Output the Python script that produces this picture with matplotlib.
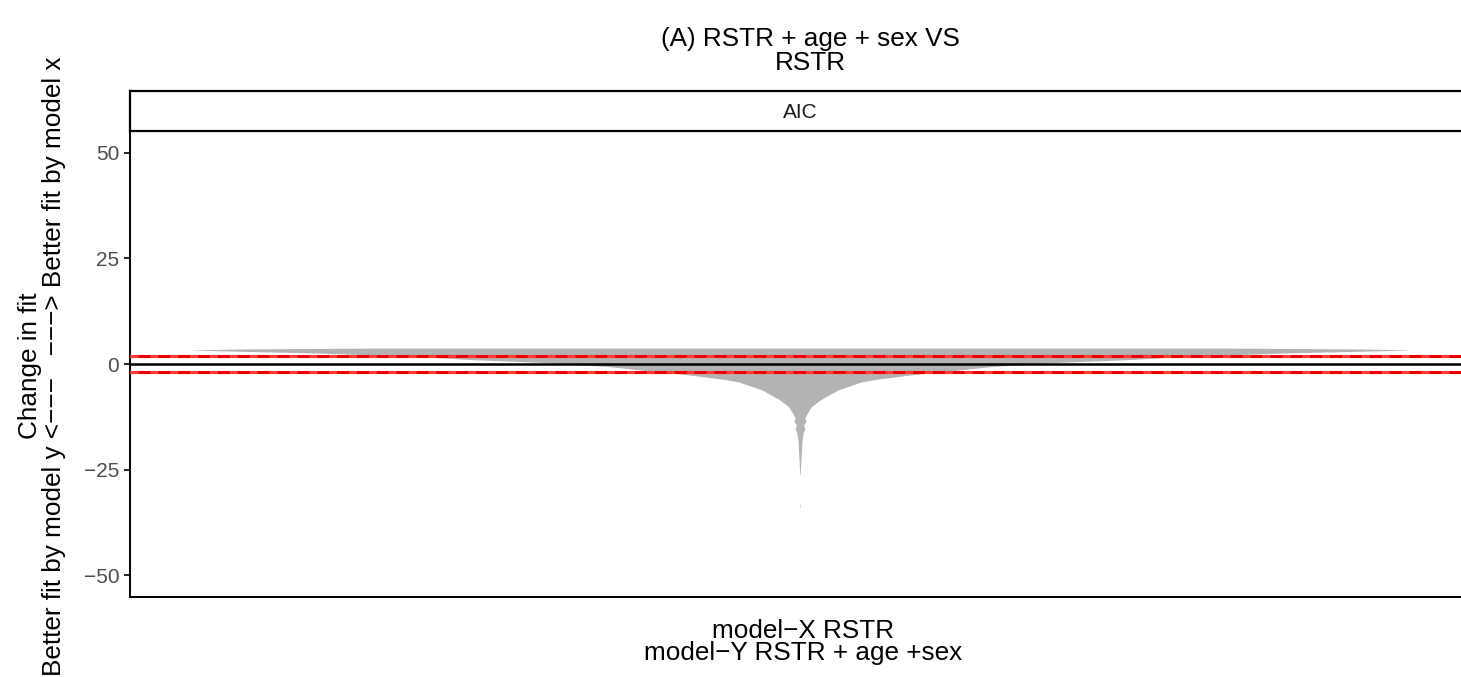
import matplotlib
matplotlib.use('Agg')
import matplotlib.pyplot as plt
import numpy as np

plt.rcParams['font.family'] = ['Liberation Sans', 'DejaVu Sans']

# ---------------- data ----------------
title_text = "(A) RSTR + age + sex VS\nRSTR"
facet_label = "AIC"
x_label = "model\u2212X RSTR\nmodel\u2212Y RSTR + age +sex"
y_label = "Change in fit\nBetter fit by model y <\u2212\u2212\u2212   \u2212\u2212\u2212> Better fit by model x"
y_ticks = [-50, -25, 0, 25, 50]
y_tick_labels = ["\u221250", "\u221225", "0", "25", "50"]
ref_lines = [-2, 2]
zero_line = [0]

# violin profile (y value, relative density)
violin_y = [3.78, 3.55, 3.31, 2.6, 1.9, 1.06, 0.31, -0.64, -1.42, -2.6, -3.62,
            -4.25, -6.15, -8.5, -10.2, -11.9, -12.8, -13.5, -14.4, -15.4, -16.3,
            -18.0, -21.0, -23.5, -26.0, -26.5, -33.0, -33.6, -34.0]
violin_density = [0.69, 0.92, 1.0, 0.79, 0.64, 0.54, 0.41, 0.31, 0.26, 0.18, 0.125,
                  0.10, 0.062, 0.033, 0.018, 0.011, 0.008, 0.010, 0.006, 0.008, 0.005,
                  0.0033, 0.0022, 0.0013, 0.0004, 0.0, 0.0, 0.0006, 0.0]

# ---------------- layout ----------------
W, H = 1461, 677
fig = plt.figure(figsize=(W / 100, H / 100), dpi=100)


def rect(l, t, r, b):
    return [l / W, 1 - b / H, (r - l) / W, (b - t) / H]


def fx(x):
    return x / W


def fy(y):
    return 1 - y / H


PL, PR = 130, 1490          # panel runs past the right edge of the figure
CX = 800                    # pixel position of the category centre
scale = (CX - PL) / 0.6     # pixels per x unit (left limit 0.4, centre 1.0)

ax = fig.add_axes(rect(PL, 131, PR, 597))
ax.set_xlim(0.4, 0.4 + (PR - PL) / scale)
ax.set_ylim(-55.2, 55.2)

vy = np.array(violin_y)
vd = np.array(violin_density)
half = 0.548
ax.fill_betweenx(vy, 1 - half * vd, 1 + half * vd, color='#B3B3B3', lw=0, zorder=2)

for yv in ref_lines:
    ax.axhline(yv, color='#EE0000', lw=2.2, zorder=3)
    ax.axhline(yv, color='#FF3A3A', lw=2.2, zorder=4, dashes=(2.6, 3.9))
for yv in zero_line:
    ax.axhline(yv, color='black', lw=1.8, zorder=5)

for s in ['top', 'right']:
    ax.spines[s].set_visible(False)
for s in ['left', 'bottom']:
    ax.spines[s].set_linewidth(1.4)
    ax.spines[s].set_color('black')

ax.set_yticks(y_ticks)
ax.set_yticklabels(y_tick_labels)
ax.tick_params(axis='y', length=4.3, width=1.2, color='black', labelcolor='#4D4D4D',
               labelsize=15, pad=3.5)
ax.set_xticks([])

# strip
sax = fig.add_axes(rect(PL, 91, PR, 131))
sax.set_xticks([])
sax.set_yticks([])
for s in sax.spines.values():
    s.set_linewidth(1.6)
    s.set_color('black')
sax.text(fx(CX), fy(113), facet_label, ha='center', va='center', fontsize=15,
         color='#1A1A1A', transform=fig.transFigure)

# title
fig.text(fx(810), fy(51), title_text, ha='center', va='center', fontsize=18.8,
         linespacing=0.95, color='black')

# x label
fig.text(fx(CX + 3), fy(642), x_label, ha='center', va='center', fontsize=18.8,
         linespacing=0.9, color='black')

# y label
fig.text(fx(42), fy(366), y_label, ha='center', va='center', fontsize=18.8,
         rotation=90, linespacing=1.05, color='black')

fig.savefig('out.png', dpi=100)
